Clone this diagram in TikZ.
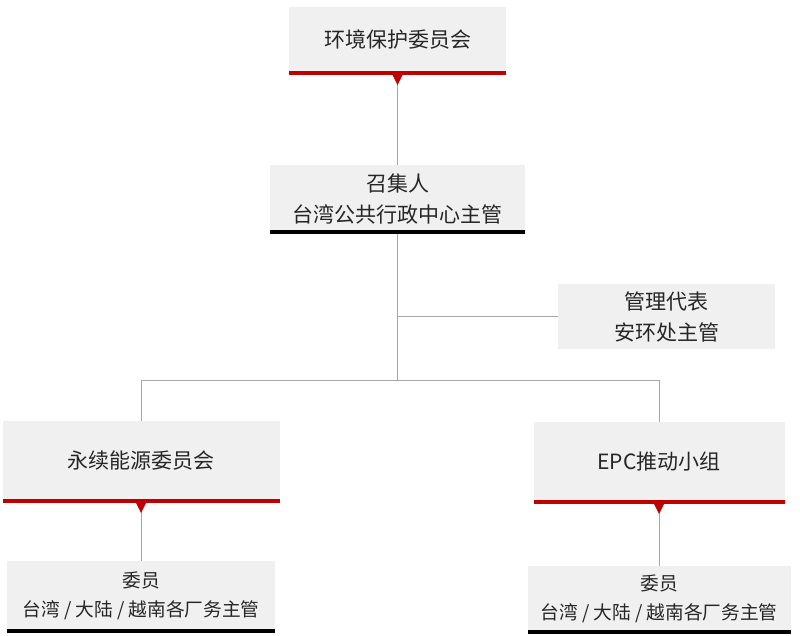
\documentclass[tikz,border=0pt]{standalone}
\usepackage{fontspec}
\usepackage{tikz}
\usetikzlibrary{positioning}
\newfontfamily\cjk{Noto Sans CJK SC}
\definecolor{boxgray}{RGB}{240,240,240}
\definecolor{barred}{RGB}{192,0,0}
\definecolor{linegray}{RGB}{166,166,166}
\definecolor{txtgray}{RGB}{38,38,38}
\tikzset{
orgbox/.style = {rectangle, fill=boxgray, minimum width=#1, inner sep=0pt, outer sep=0pt, align=center, text=txtgray,
  font=\cjk\fontsize{21}{31}\selectfont},
orgbox/.default = 217pt % width of the box
}
\tikzset{small/.style={font=\cjk\fontsize{18.7}{29}\selectfont}}
\tikzset{redline/.style={draw=barred, line width=4pt}}
\tikzset{blackline/.style={draw=black, line width=4pt}}
\tikzset{conn/.style={draw=linegray, line width=0.9pt}}

\begin{document}
\begin{tikzpicture}[x=1pt,y=-1pt]
      \useasboundingbox (0,0) rectangle (800,636);
      % boxes
      \node [orgbox, minimum height=66pt] (env) at (397.5,40) {环境保护委员会};
      \node [orgbox=255pt, minimum height=67pt] (conv) at (397.5,199) {召集人\\台湾公共行政中心主管};
      \node [orgbox, minimum height=65pt] (mgmt) at (666.5,316.5) {管理代表\\安环处主管};
      \node [orgbox=277pt, minimum height=80pt] (energy) at (141,461) {永续能源委员会};
      \node [orgbox=251pt, minimum height=80pt] (epc) at (659,462) {EPC推动小组};
      \node [orgbox=268pt, minimum height=70pt, small] (memL) at (141,596) {委员\\台湾 / 大陆 / 越南各厂务主管};
      \node [orgbox=263pt, minimum height=66pt, small] (memR) at (659,599) {委员\\台湾 / 大陆 / 越南各厂务主管};
      \coordinate (hub) at (397.5,380);
      % connectors
      \draw [conn] (env.south) -- (conv.north);
      \draw [conn] (conv.south) -- (hub) -| (energy.north);
      \draw [conn] (hub) -| (epc.north);
      \draw [conn] (mgmt.west) -- (mgmt.west -| conv.south);
      \draw [conn] (energy.south) -- (memL.north);
      \draw [conn] (epc.south) -- (memR.north);
      % bars and markers
      \draw [redline] (env.south west) -- (env.south east);
      \draw [redline] (energy.south west) -- (energy.south east);
      \draw [redline] (epc.south west) -- (epc.south east);
      \draw [blackline] (conv.south west) -- (conv.south east);
      \draw [blackline] (memL.south west) -- (memL.south east);
      \draw [blackline] (memR.south west) -- (memR.south east);
      \foreach \n in {env,energy,epc}
        \fill [barred] (\n.south) ++(-6,0) -- ++(12,0) -- ++(-6,12) -- cycle;
    \end{tikzpicture}
\end{document}
